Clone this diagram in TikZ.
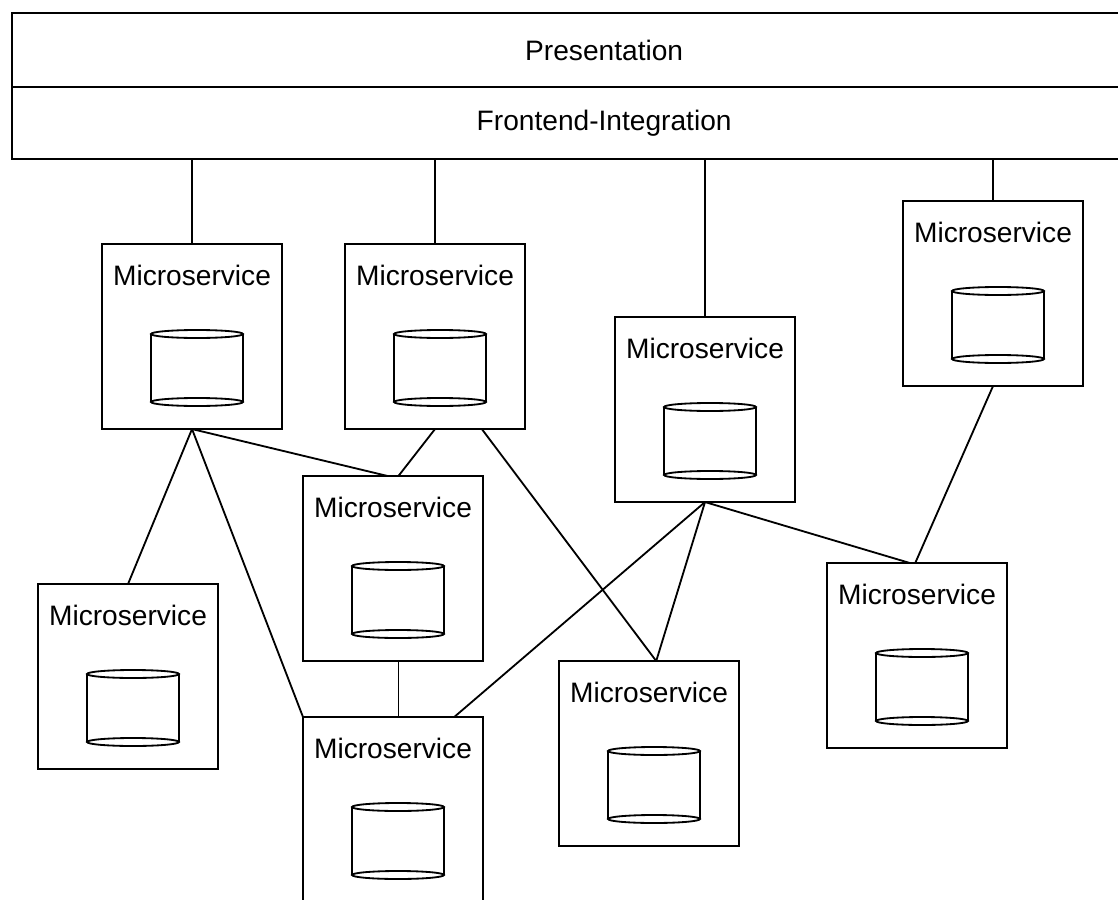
\documentclass[tikz,border=0pt]{standalone}
\usepackage{fontspec}
\setmainfont{Liberation Sans}
\usetikzlibrary{calc}
\newcommand\msbox[3]{%
  \node[msbox] (#1) at (#2,#3) {};
  \node[mstext] (#1t) at (#2+90,#3+31) {Microservice};
  \draw[dbline] (#2+49,#3+90) -- (#2+49,#3+158) (#2+141,#3+90) -- (#2+141,#3+158);
  \draw[dbline] (#2+95,#3+90) ellipse [x radius=46, y radius=4];
  \draw[dbline] (#2+95,#3+158) ellipse [x radius=46, y radius=4];
}
\begin{document}
\begin{tikzpicture}[x=0.025cm,y=-0.025cm,
  msbox/.style={draw, line width=1.3pt, rectangle, minimum width=4.5cm, minimum height=4.625cm,
    anchor=north west, inner sep=0pt, outer sep=0pt},
  layer/.style={draw, line width=1.3pt, rectangle, minimum width=29.6cm, anchor=north west,
    inner sep=0pt, outer sep=0pt, font=\fontsize{20}{24}\selectfont},
  mstext/.style={font=\fontsize{20}{24}\selectfont, inner sep=0pt},
  dbline/.style={line width=1.3pt},
  link/.style={draw, line width=1.3pt}]
\useasboundingbox (0,0) rectangle (1118,900);
\clip (0,0) rectangle (1118,900);
\fill[white] (0,0) rectangle (1118,900);

\node[layer, minimum height=1.85cm] (pres) at (12,13) {Presentation};
\node[layer, minimum height=1.8cm] (fe) at (12,87) {Frontend-Integration};

\msbox{m1}{102}{244}
\msbox{m2}{345}{244}
\msbox{m3}{615}{317}
\msbox{m4}{903}{201}
\msbox{m5}{303}{476}
\msbox{m6}{38}{584}
\msbox{m7}{303}{717}
\msbox{m8}{559}{661}
\msbox{m9}{827}{563}

% links to frontend integration
\draw[link] (m1.north |- fe.south) -- (m1.north);
\draw[link] (m2.north |- fe.south) -- (m2.north);
\draw[link] (m3.north |- fe.south) -- (m3.north);
\draw[link] (m4.north |- fe.south) -- (m4.north);

% service links
\draw[link] (m1.south) -- (m6.north);
\draw[link] (m1.south) -- (m7.north west);
\draw[link] (m1.south) -- ($(m5.north west)!0.47!(m5.north east)$);
\draw[link] (m2.south) -- ($(m5.north west)!0.53!(m5.north east)$);
\draw[link] ($(m2.south west)!0.76!(m2.south east)$) -- ($(m8.north west)!0.54!(m8.north east)$);
\draw[link] (m3.south) -- ($(m7.north west)!0.84!(m7.north east)$);
\draw[link] (m3.south) -- ($(m8.north west)!0.54!(m8.north east)$);
\draw[link] (m3.south) -- ($(m9.north west)!0.46!(m9.north east)$);
\draw[link] (m4.south) -- ($(m9.north west)!0.49!(m9.north east)$);
\draw[link] ($(m5.south west)!0.53!(m5.south east)$) -- ($(m7.north west)!0.53!(m7.north east)$);
\end{tikzpicture}
\end{document}
